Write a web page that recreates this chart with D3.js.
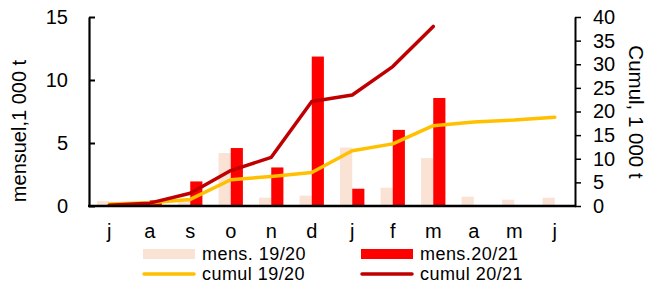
<!DOCTYPE html>
<html><head><meta charset="utf-8">
<script src="https://cdn.jsdelivr.net/npm/d3@7"></script>
<style>body{margin:0;background:#fff}svg{display:block;font-family:"Liberation Sans",Arial,sans-serif}</style>
</head><body>
<svg id="c" width="647" height="289"></svg>
<script>
const months = ["j","a","s","o","n","d","j","f","m","a","m","j"];
const mens1920 = [0.4,0.3,0.5,4.2,0.66,0.82,4.64,1.45,3.8,0.74,0.5,0.66];
const mens2021 = [0.15,0.45,1.95,4.6,3.06,11.86,1.37,6.04,8.57];
const cumul1920 = [0.4,0.7,1.4,5.55,6.26,7.1,11.7,13.15,17.0,17.8,18.2,18.8];
const cumul2021 = [0.15,0.6,2.7,7.5,10.3,22.1,23.5,29.5,38.0];
const leftTicks = [0,5,10,15];
const rightTicks = [0,5,10,15,20,25,30,35,40];

const svg = d3.select("#c");
const L = 89, R = 575, T = 17, B = 206;
const idx = months.map((d,i)=>i);
const x = d3.scaleBand().domain(idx).range([L,R]).paddingInner(0.4).paddingOuter(0.2);
const xs = d3.scaleBand().domain(["a","b"]).range([0,x.bandwidth()]);
const yL = d3.scaleLinear().domain([0,15]).range([B,T]);
const yR = d3.scaleLinear().domain([0,40]).range([B,T]);
const cx = i => x(i) + x.bandwidth()/2;

svg.append("g").selectAll("rect").data(mens1920).join("rect")
  .attr("x",(d,i)=>x(i)+xs("a")).attr("width",xs.bandwidth())
  .attr("y",d=>yL(d)).attr("height",d=>B-yL(d)).attr("fill","#FAE2D5");
svg.append("g").selectAll("rect").data(mens2021).join("rect")
  .attr("x",(d,i)=>x(i)+xs("b")).attr("width",xs.bandwidth())
  .attr("y",d=>yL(d)).attr("height",d=>B-yL(d)).attr("fill","#FF0000");

const line = d3.line().x((d,i)=>cx(i)).y(d=>yR(d));
svg.append("path").datum(cumul1920).attr("d",line).attr("fill","none")
  .attr("stroke","#FFC000").attr("stroke-width",3.5).attr("stroke-linejoin","round").attr("stroke-linecap","round");
svg.append("path").datum(cumul2021).attr("d",line).attr("fill","none")
  .attr("stroke","#C00000").attr("stroke-width",3.5).attr("stroke-linejoin","round").attr("stroke-linecap","round");

// axes
const gl = svg.append("g").attr("transform",`translate(${L},0)`)
  .call(d3.axisLeft(yL).tickValues(leftTicks).tickSizeInner(-6).tickSizeOuter(0).tickPadding(21));
gl.select(".domain").attr("stroke-width",2.2);
gl.selectAll(".tick line").attr("stroke-width",2);
gl.selectAll("text").attr("font-size",20).attr("font-family","Liberation Sans, Arial, sans-serif").attr("fill","#000");

const gr = svg.append("g").attr("transform",`translate(${R},0)`)
  .call(d3.axisRight(yR).tickValues(rightTicks).tickSizeInner(6).tickSizeOuter(0).tickPadding(12));
gr.select(".domain").attr("stroke-width",2);
gr.selectAll(".tick line").attr("stroke-width",1.5);
gr.selectAll("text").attr("font-size",20).attr("font-family","Liberation Sans, Arial, sans-serif").attr("fill","#000");

svg.append("line").attr("x1",L-1).attr("x2",R+1).attr("y1",B).attr("y2",B).attr("stroke","#000").attr("stroke-width",2.5);

svg.append("g").selectAll("text").data(months).join("text")
  .attr("x",(d,i)=>cx(i)).attr("y",238).attr("text-anchor","middle")
  .attr("font-size",20).text(d=>d);

svg.append("text").attr("transform","translate(26,131) rotate(-90)").attr("text-anchor","middle")
  .attr("font-size",20).text("mensuel,1 000 t");
svg.append("text").attr("transform","translate(629,112) rotate(90)").attr("text-anchor","middle")
  .attr("font-size",20.5).text("Cumul, 1 000 t");

// legend
const leg = [
  {t:"mens. 19/20",c:"#FAE2D5",type:"rect",x:143,y:254},
  {t:"mens.20/21",c:"#FF0000",type:"rect",x:361,y:254},
  {t:"cumul 19/20",c:"#FFC000",type:"line",x:143,y:274},
  {t:"cumul 20/21",c:"#C00000",type:"line",x:361,y:274}
];
const lg = svg.append("g");
leg.forEach(d=>{
  if(d.type==="rect") lg.append("rect").attr("x",d.x).attr("y",d.y-5).attr("width",52).attr("height",10).attr("fill",d.c);
  else lg.append("line").attr("x1",d.x+1).attr("x2",d.x+51).attr("y1",d.y).attr("y2",d.y).attr("stroke",d.c).attr("stroke-width",3.5).attr("stroke-linecap","round");
  lg.append("text").attr("x",d.x+59).attr("y",d.y+5.5).attr("font-size",18).attr("letter-spacing",0.45).text(d.t);
});
</script>
</body></html>
